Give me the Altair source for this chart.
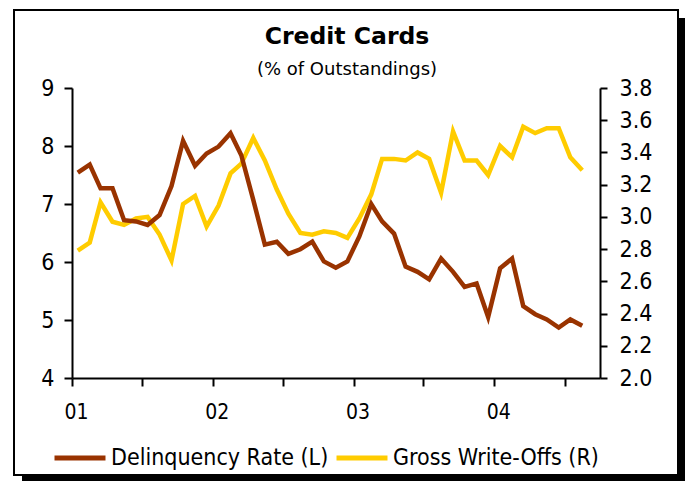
import altair as alt
import pandas as pd

# Monthly observations, Jan 2001 - Aug 2004
months = pd.date_range("2001-01-01", periods=44, freq="MS")
delinquency = [7.54, 7.68, 7.27, 7.27, 6.72, 6.70, 6.64, 6.81, 7.31, 8.09, 7.66, 7.87,
               7.99, 8.22, 7.84, 7.07, 6.30, 6.35, 6.14, 6.22, 6.35, 6.01, 5.90, 6.01,
               6.44, 7.00, 6.70, 6.49, 5.92, 5.83, 5.70, 6.06, 5.83, 5.57, 5.63, 5.05,
               5.89, 6.06, 5.24, 5.10, 5.01, 4.87, 5.01, 4.90]
write_offs = [2.79, 2.84, 3.09, 2.97, 2.95, 2.99, 3.00, 2.89, 2.73, 3.08, 3.13, 2.94,
              3.07, 3.27, 3.33, 3.49, 3.35, 3.17, 3.02, 2.90, 2.89, 2.91, 2.90, 2.87,
              2.99, 3.14, 3.36, 3.36, 3.35, 3.40, 3.36, 3.15, 3.53, 3.35, 3.35, 3.26,
              3.44, 3.37, 3.56, 3.52, 3.55, 3.55, 3.37, 3.29]

series_names = ["Delinquency Rate (L)", "Gross Write-Offs (R)"]
series_colors = ["#993300", "#FFCC00"]
left_ticks = [4, 5, 6, 7, 8, 9]
right_ticks = [round(2.0 + 0.2 * k, 1) for k in range(10)]

FONT = "DejaVu Sans Condensed, DejaVu Sans"
TITLE_FONT = "DejaVu Sans"

df = pd.DataFrame({
    "date": months + pd.Timedelta(days=15),  # plot each month at its middle
    "delinquency": delinquency,
    "write_offs": write_offs,
})

half_years = [alt.DateTime(year=y, month=m, date=1)
              for y in range(2001, 2005) for m in (1, 7)]

x_enc = alt.X(
    "date:T",
    scale=alt.Scale(domain=[alt.DateTime(year=2001, month=1, date=1),
                            alt.DateTime(year=2004, month=10, date=1)]),
    axis=alt.Axis(values=half_years, title=None, grid=False, labelFlush=False,
                  labelExpr="month(datum.value) == 0 ? timeFormat(datum.value, '%y') : ''",
                  tickSize=8, labelPadding=15, labelFontSize=21, labelOffset=4),
)

color_enc = alt.Color("series:N",
                      scale=alt.Scale(domain=series_names, range=series_colors),
                      legend=alt.Legend(orient="none", legendX=-20, legendY=342,
                                        direction="horizontal", title=None,
                                        symbolType="stroke", symbolSize=2600,
                                        symbolStrokeWidth=5, labelFontSize=23,
                                        labelOffset=3, columnPadding=-3,
                                        labelLimit=400))

base = alt.Chart(df).encode(x=x_enc)

writeoff_line = base.transform_calculate(series="'Gross Write-Offs (R)'").mark_line(
    strokeWidth=4.5
).encode(
    y=alt.Y("write_offs:Q",
            scale=alt.Scale(domain=[2.0, 3.8], nice=False, zero=False),
            axis=alt.Axis(orient="right", values=right_ticks, format=".1f", title=None,
                          grid=False, tickSize=7, labelPadding=12, labelFontSize=23)),
    color=color_enc,
)

delinquency_line = base.transform_calculate(series="'Delinquency Rate (L)'").mark_line(
    strokeWidth=4.5
).encode(
    y=alt.Y("delinquency:Q",
            scale=alt.Scale(domain=[4, 9], nice=False, zero=False),
            axis=alt.Axis(orient="left", values=left_ticks, title=None, grid=False,
                          tickSize=8, labelPadding=10, labelFontSize=23)),
    color=color_enc,
)

# Frame around the whole figure, with a drop shadow on the right and bottom
frame_src = alt.Chart(pd.DataFrame({"k": [0]}))
frame = frame_src.mark_rect(fill=None, stroke="black", strokeWidth=2).encode(
    x=alt.value(-58), x2=alt.value(606), y=alt.value(-78), y2=alt.value(387))
shadow_right = frame_src.mark_rule(color="black", strokeWidth=6).encode(
    x=alt.value(610), y=alt.value(-70), y2=alt.value(393))
shadow_bottom = frame_src.mark_rule(color="black", strokeWidth=5).encode(
    y=alt.value(390.5), x=alt.value(-50), x2=alt.value(613))

chart = alt.layer(
    frame, shadow_right, shadow_bottom, writeoff_line, delinquency_line
).resolve_scale(
    y="independent"
).properties(
    width=528, height=290,
    padding={"left": 72, "top": 88, "right": 85, "bottom": 103},
    autosize=alt.AutoSizeParams(type="none"),
    title=alt.TitleParams(text="Credit Cards", subtitle="(% of Outstandings)",
                          fontSize=23.5, fontWeight="bold", subtitleFontSize=18,
                          anchor="middle", dx=11, offset=-70, subtitlePadding=12.5,
                          color="black", subtitleColor="black", font=TITLE_FONT,
                          subtitleFont=TITLE_FONT),
).configure(
    font=FONT,
    background="white",
).configure_view(
    stroke=None,
).configure_axis(
    domainColor="black", domainWidth=2, tickColor="black", tickWidth=2,
    labelColor="black", labelFont=FONT,
).configure_legend(
    labelColor="black", labelFont=FONT,
)

chart.save("out.html", embed_options={"renderer": "svg", "actions": False})
